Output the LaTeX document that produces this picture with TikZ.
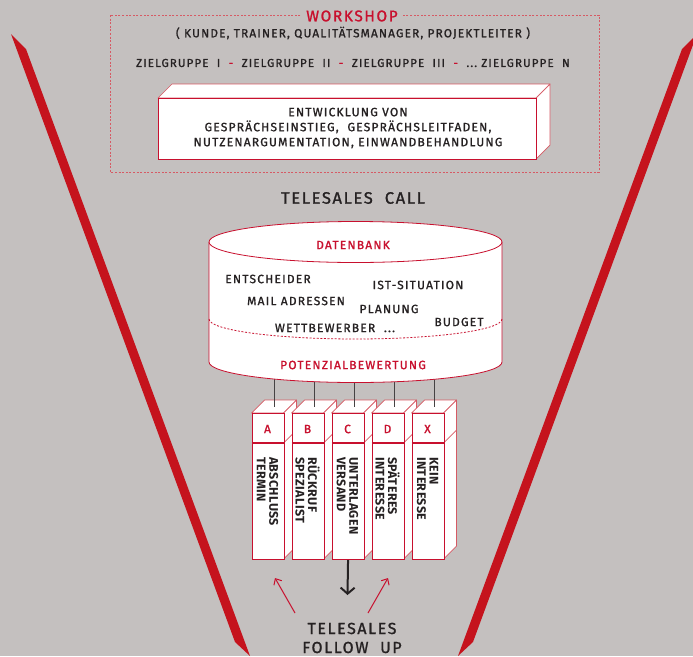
\documentclass[tikz,border=0pt]{standalone}
\usepackage{fontspec}
\setmainfont{Fira Sans}[LetterSpace=10]
\newfontfamily\medfont{Fira Sans}[LetterSpace=10, FakeBold=1.2]
\newfontfamily\colfont{Fira Sans Bold}[LetterSpace=3]
\usetikzlibrary{arrows.meta}
\definecolor{bg}{HTML}{C4C0BF}
\definecolor{wred}{HTML}{C8102E}
\definecolor{barred}{HTML}{C5131D}
\definecolor{lred}{HTML}{D65A64}
\definecolor{ink}{HTML}{252122}
\tikzset{
  redbar/.style={fill=barred},
  frame/.style={draw=lred, line width=0.9pt, dash pattern=on 2pt off 1.6pt},
  txt/.style={text=ink, inner sep=0pt},
  redtxt/.style={text=wred, inner sep=0pt},
  frontface/.style={draw=wred, line width=1.4pt, fill=white, inner sep=0pt},
  backface/.style={draw=lred, line width=0.7pt, fill=white, line join=round},
  link/.style={draw=ink!85, line width=1pt},
  colfront/.style={draw=wred, line width=1.1pt, fill=white, minimum width=32, minimum height=146, anchor=north west, inner sep=0pt},
  coltext/.style={text=ink, inner sep=0pt, rotate=-90, anchor=west, align=left, font=\colfont\fontsize{12.5}{12.5}\selectfont},
  downarrow/.style={draw=ink, line width=2pt, -{Straight Barb[length=6pt,width=14pt]}},
  redarrow/.style={draw=wred, line width=1pt, -{Straight Barb[length=5pt,width=9pt]}}
}
\begin{document}
\begin{tikzpicture}[x=1pt,y=-1pt]
\fill[bg] (0,0) rectangle (693,656);
\useasboundingbox (0,0) rectangle (693,656);
% red funnel bars
\fill[redbar] (11,34) -- (26,49) -- (250,656) -- (235,642) -- cycle;
\fill[redbar] (697,34) -- (682,49) -- (458,656) -- (473,642) -- cycle;
% workshop frame
\draw[frame] (110,15) rectangle (599,172);
\node[redtxt, fill=bg, inner xsep=4pt, inner ysep=1pt, font=\medfont\fontsize{15.5}{18}\selectfont] (ws) at (352,16) {WORKSHOP};
\node[txt, font=\medfont\fontsize{11.8}{13}\selectfont] (roles) at (353,33) {( KUNDE, TRAINER, QUALITÄTSMANAGER, PROJEKTLEITER )};
\node[txt, font=\medfont\fontsize{11.5}{13}\selectfont] (groups) at (353,63) {ZIELGRUPPE\ \ I\ \ {\color{wred}-}\ \ ZIELGRUPPE\ \ II\ \ {\color{wred}-}\ \ ZIELGRUPPE\ \ III\ \ {\color{wred}-}\ \ ...\ ZIELGRUPPE\ \ N};
% 3D box
\filldraw[backface] (158,98) -- (172,84) -- (550,84) -- (536,98) -- cycle;
\filldraw[backface] (536,98) -- (550,84) -- (550,145) -- (536,159) -- cycle;
\node[frontface, minimum width=378, minimum height=61, anchor=north west] (dev) at (158,98) {};
\node[txt, align=center, font=\medfont\fontsize{12}{15}\selectfont] (devtxt) at (348,128) {ENTWICKLUNG VON\\GESPRÄCHSEINSTIEG,\ \ GESPRÄCHSLEITFADEN,\\NUTZENARGUMENTATION, EINWANDBEHANDLUNG};
% telesales call
\node[txt, font=\medfont\fontsize{16.5}{18}\selectfont] (call) at (353,198) {TELESALES\ \ CALL};
% connector start points (inside the cylinder, drawn underneath)
\foreach \i/\n in {0/A,1/B,2/C,3/D,4/X}{
  \coordinate (db\n) at ({274+40*\i},372);
}
% columns
\foreach \i/\n/\l/\ta/\tb in {0/A/A/ABSCHLUSS/TERMIN,1/B/B/RÜCKRUF/SPEZIALIST,2/C/C/UNTERLAGEN/VERSAND,3/D/D/SPÄTERES/INTERESSE,4/X/X/KEIN/INTERESSE}{
  \pgfmathsetmacro{\xl}{251.5+40*\i}
  \pgfmathsetmacro{\xr}{\xl+32}
  \filldraw[backface] (\xl,413) -- ({\xl+13},400) -- ({\xr+13},400) -- (\xr,413) -- cycle;
  \filldraw[backface] (\xr,413) -- ({\xr+13},400) -- ({\xr+13},546) -- (\xr,559) -- cycle;
  \draw[lred, line width=0.7pt] (\xr,443) -- ({\xr+13},430);
  \node[colfront] (col\n) at (\xl,413) {};
  \draw[wred, line width=1.1pt] (\xl,443) -- (\xr,443);
  \node[redtxt, font=\medfont\fontsize{12}{14}\selectfont] (lab\n) at ({\xl+16},429) {\l};
  \node[coltext] (txt\n) at ({\xl+16},457) {\ta\\\tb};
  \coordinate (top\n) at ({\xl+22.5},406.5);
  \draw[link] (db\n) -- (top\n);
}
% database cylinder
\filldraw[draw=wred, line width=0.8pt, fill=white] (209,242) -- (209,362) arc[start angle=180, end angle=0, x radius=146.5, y radius=20.5] -- (502,242);
\filldraw[draw=wred, line width=0.8pt, fill=white] (355.5,242) ellipse[x radius=146.5, y radius=20.5];
\draw[wred, line width=0.8pt, dash pattern=on 2pt off 1.6pt] (209,319) arc[start angle=180, end angle=0, x radius=146.5, y radius=20];
\tikzset{dbtxt/.style={txt, font=\medfont\fontsize{12}{14}\selectfont}}
\node[redtxt, font=\medfont\fontsize{12}{14}\selectfont] (datenbank) at (353,245) {DATENBANK};
\node[dbtxt] (d1) at (268,279) {ENTSCHEIDER};
\node[dbtxt] (d2) at (418,285) {IST-SITUATION};
\node[dbtxt] (d3) at (296,301) {MAIL ADRESSEN};
\node[dbtxt] (d4) at (389,309) {PLANUNG};
\node[dbtxt] (d5) at (335,328) {WETTBEWERBER\ \ ...};
\node[dbtxt] (d6) at (459,322) {BUDGET};
\node[redtxt, font=\medfont\fontsize{12}{14}\selectfont] (pot) at (353,365) {POTENZIALBEWERTUNG};
% follow up
\coordinate (down) at (347.5,595);
\draw[downarrow] (colC.south) -- (down);
\node[txt, align=center, font=\medfont\fontsize{16}{19}\selectfont] (fu) at (352,638) {TELESALES\\FOLLOW\ \ UP};
\coordinate (la0) at (295,613);
\coordinate (la1) at (275,578);
\coordinate (ra0) at (368,613);
\coordinate (ra1) at (388,578);
\draw[redarrow] (la0) -- (la1);
\draw[redarrow] (ra0) -- (ra1);
\end{tikzpicture}
\end{document}
